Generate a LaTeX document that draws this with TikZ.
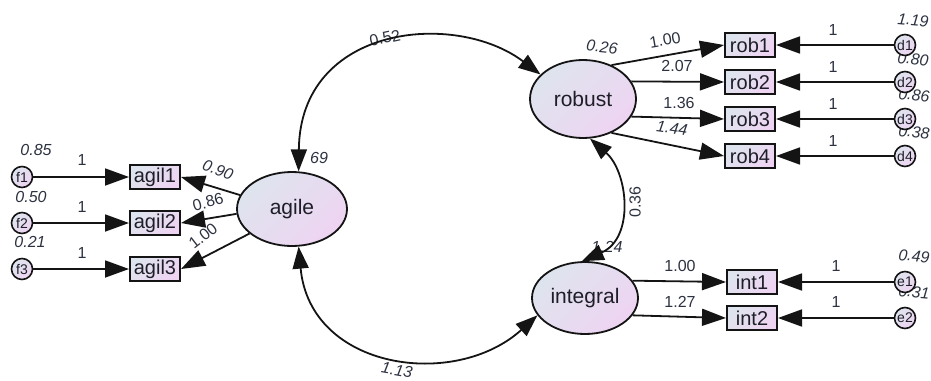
\documentclass[tikz,border=0pt]{standalone}
\usepackage{fontspec}
\setmainfont{Liberation Sans}
\usetikzlibrary{arrows.meta,shapes.geometric}
\definecolor{cA}{RGB}{222,228,238}
\definecolor{cB}{RGB}{238,212,242}
\definecolor{txt}{RGB}{30,30,40}
\definecolor{lab}{RGB}{45,50,65}
\definecolor{edge}{RGB}{20,20,20}
\tikzset{
  lat/.style={ellipse, draw=edge, line width=1.8pt, inner sep=0pt,
    left color=cA, right color=cB, shading angle=45, text=txt,
    font=\fontsize{21}{21}\selectfont},
  obs/.style={rectangle, draw=edge, line width=2pt, inner sep=0pt,
    minimum width=50pt, minimum height=24pt,
    left color=cA, right color=cB, shading angle=45, text=txt,
    font=\fontsize{20}{20}\selectfont},
  err/.style={circle, draw=edge, line width=1.6pt, inner sep=0pt,
    minimum size=21pt, left color=cA, right color=cB, shading angle=45,
    text=txt, font=\fontsize{14}{14}\selectfont},
  lbl/.style={text=lab, inner sep=0pt, font=\fontsize{16}{16}\selectfont},
  var/.style={lbl, font=\fontsize{16}{16}\selectfont\itshape},
  arr/.style={-{Triangle[length=24pt,width=17pt]}, line width=1.8pt, draw=edge},
  darr/.style={{Triangle[length=22pt,width=16pt]}-{Triangle[length=22pt,width=16pt]}, line width=1.8pt, draw=edge},
}
\begin{document}
\begin{tikzpicture}[x=1pt,y=-1pt]
\useasboundingbox (0,0) rectangle (931,380);

% labels (drawn first)
\node[var] (v85) at (36,150) {0.85};
\node[var] (v50) at (31,197) {0.50};
\node[var] (v21) at (30,242) {0.21};
\node[lbl] (l1a) at (82,160) {1};
\node[lbl] (l1b) at (82,207) {1};
\node[lbl] (l1c) at (82,253) {1};
\node[var, rotate=-20] (p90) at (218,170) {0.90};
\node[lbl, rotate=15] (p86) at (208,202) {0.86};
\node[lbl, rotate=38] (p100a) at (203,236) {1.00};
\node[var] (v69) at (319,158) {69};
\node[lbl, rotate=12] (c52) at (385,38) {0.52};
\node[var, rotate=-10] (c113) at (397,370) {1.13};
\node[var, rotate=-6] (v26) at (602,47) {0.26};
\node[lbl, rotate=10] (p100b) at (665,40) {1.00};
\node[lbl] (p207) at (677,66) {2.07};
\node[lbl] (p136) at (679,103) {1.36};
\node[var, rotate=-8] (p144) at (672,128) {1.44};
\node[lbl, rotate=90] (c36) at (635,202) {0.36};
\node[var] (v124) at (607,247) {1.24};
\node[lbl] (p100c) at (680,266) {1.00};
\node[lbl] (p127) at (680,302) {1.27};
\node[lbl] (r1) at (833,30) {1};
\node[lbl] (r2) at (833,67) {1};
\node[lbl] (r3) at (833,104) {1};
\node[lbl] (r4) at (833,141) {1};
\node[lbl] (r5) at (836,266) {1};
\node[lbl] (r6) at (836,302) {1};
\node[var, rotate=-5] (v119) at (913,20) {1.19};
\node[var, rotate=-5] (v80) at (913,59) {0.80};
\node[var, rotate=-5] (v86) at (914,95) {0.86};
\node[var, rotate=-5] (v38) at (914,132) {0.38};
\node[var, rotate=-5] (v49) at (914,256) {0.49};
\node[var, rotate=-5] (v31) at (914,292) {0.31};

% latent
\node[lat, minimum width=110pt, minimum height=74pt] (agile) at (292,209) {agile};
\node[lat, minimum width=106pt, minimum height=78pt] (robust) at (583,99) {robust};
\node[lat, minimum width=106pt, minimum height=72pt] (integral) at (585,298) {integral};

% observed
\node[obs] (agil1) at (155,177) {agil1};
\node[obs] (agil2) at (155,223) {agil2};
\node[obs] (agil3) at (155,269) {agil3};
\node[obs] (rob1) at (750,45) {rob1};
\node[obs] (rob2) at (750,82) {rob2};
\node[obs] (rob3) at (750,119) {rob3};
\node[obs] (rob4) at (750,156) {rob4};
\node[obs] (int1) at (752,282) {int1};
\node[obs] (int2) at (752,318) {int2};

% errors
\node[err] (f1) at (22,177) {f1};
\node[err] (f2) at (22,223) {f2};
\node[err] (f3) at (22,269) {f3};
\node[err] (d1) at (905,45) {d1};
\node[err] (d2) at (905,82) {d2};
\node[err] (d3) at (905,119) {d3};
\node[err] (d4) at (905,156) {d4};
\node[err] (e1) at (905,282) {e1};
\node[err] (e2) at (905,318) {e2};

% paths
\draw[arr] (f1) -- (agil1);
\draw[arr] (f2) -- (agil2);
\draw[arr] (f3) -- (agil3);
\draw[arr] (agile.165) -- (agil1.east);
\draw[arr] (agile.185) -- (agil2.east);
\draw[arr] (agile.210) -- (agil3.east);
\draw[arr] (robust.50) -- (rob1.west);
\draw[arr] (robust.20) -- (rob2.west);
\draw[arr] (robust.-20) -- (rob3.west);
\draw[arr] (robust.-50) -- (rob4.west);
\draw[arr] (integral.20) -- (int1.west);
\draw[arr] (integral.-20) -- (int2.west);
\draw[arr] (d1) -- (rob1);
\draw[arr] (d2) -- (rob2);
\draw[arr] (d3) -- (rob3);
\draw[arr] (d4) -- (rob4);
\draw[arr] (e1) -- (int1);
\draw[arr] (e2) -- (int2);

% covariances
\draw[darr] (agile.80) .. controls (300,25) and (455,10) .. (robust.150);
\draw[darr] (agile.-80) .. controls (310,370) and (455,390) .. (integral.200);
\draw[darr] (robust.-80) .. controls (628,172) and (635,238) .. (integral.95);
\end{tikzpicture}
\end{document}
